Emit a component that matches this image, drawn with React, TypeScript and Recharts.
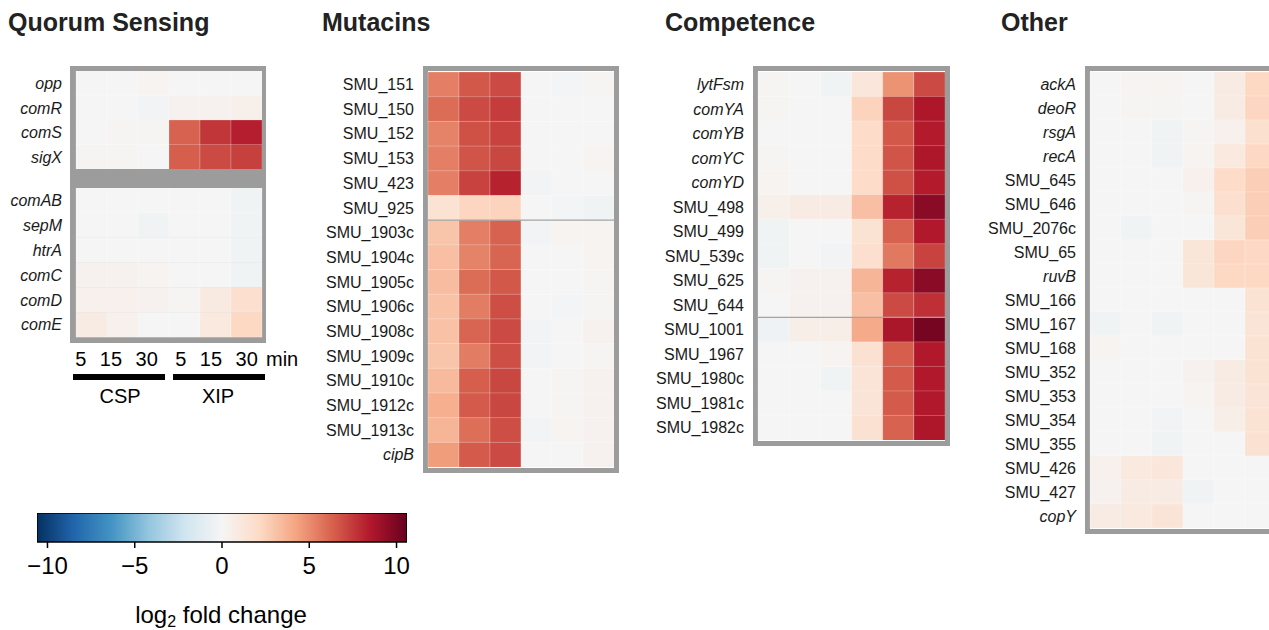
import React from "react";
import { BarChart, Bar, Cell, XAxis, YAxis, ReferenceLine } from "recharts";

const FONT = "'Liberation Sans', Arial, Helvetica, sans-serif";

// time points: CSP 5/15/30 then XIP 5/15/30
const timePoints = ["5", "15", "30", "5", "15", "30"];
const treatments = ["CSP", "XIP"];

const qsTopGenes = ["opp", "comR", "comS", "sigX"];
const qsTopValues = [
  [0, 0, 0.2, 0, 0, 0],
  [0, 0, -0.2, 0.3, 0.3, 0.5],
  [0, 0.1, 0.1, 6.3, 7.6, 8.3],
  [0.1, 0.1, 0, 6.4, 7.0, 7.3],
];

const qsBottomGenes = ["comAB", "sepM", "htrA", "comC", "comD", "comE"];
const qsBottomValues = [
  [0, 0, 0, 0, 0, -0.3],
  [0, 0, -0.3, 0, 0, -0.3],
  [0, 0, 0, 0, 0, -0.3],
  [0.3, 0.3, 0.2, 0, 0, -0.3],
  [0.4, 0.4, 0.3, 0.1, 0.9, 1.8],
  [0.8, 0.4, 0, 0, 1.0, 2.2],
];

const mutacinGenes = [
  "SMU_151", "SMU_150", "SMU_152", "SMU_153", "SMU_423", "SMU_925",
  "SMU_1903c", "SMU_1904c", "SMU_1905c", "SMU_1906c", "SMU_1908c",
  "SMU_1909c", "SMU_1910c", "SMU_1912c", "SMU_1913c", "cipB",
];
const mutacinValues = [
  [5.4, 6.6, 7.0, 0, -0.1, 0.1],
  [6.0, 7.0, 7.4, 0, 0, 0],
  [5.3, 6.8, 7.2, 0, 0, 0],
  [5.4, 6.7, 7.1, 0, 0, 0.2],
  [5.4, 7.2, 8.2, -0.2, 0, 0],
  [1.5, 2.3, 2.4, 0, -0.1, -0.3],
  [3.0, 5.4, 6.3, -0.2, 0.2, 0.2],
  [3.2, 5.3, 6.2, 0, 0, 0.2],
  [3.3, 6.0, 6.6, 0, 0, 0.1],
  [3.1, 5.5, 6.9, 0, -0.1, 0.1],
  [3.1, 6.2, 7.0, -0.2, 0, 0.3],
  [3.0, 5.5, 6.9, -0.2, 0, 0.1],
  [3.4, 6.4, 7.1, 0, 0.1, 0.3],
  [3.8, 6.5, 7.1, 0, 0.1, 0.3],
  [3.6, 5.9, 6.9, -0.2, 0.2, 0.3],
  [4.5, 6.5, 7.0, 0, 0, 0.3],
];

const competenceGenes = [
  "lytFsm", "comYA", "comYB", "comYC", "comYD", "SMU_498", "SMU_499",
  "SMU_539c", "SMU_625", "SMU_644", "SMU_1001", "SMU_1967", "SMU_1980c",
  "SMU_1981c", "SMU_1982c",
];
const competenceValues = [
  [0.1, 0, -0.3, 1.2, 4.8, 7.0],
  [0.1, 0, 0, 2.4, 7.1, 8.6],
  [0, 0, 0, 2.0, 6.6, 8.4],
  [0.1, 0, 0, 2.0, 6.7, 8.6],
  [0.2, 0, 0, 2.0, 6.8, 8.4],
  [0.5, 0.8, 0.8, 3.2, 8.2, 9.6],
  [-0.3, 0, 0, 1.5, 6.3, 8.5],
  [-0.3, 0, -0.2, 1.8, 5.6, 7.2],
  [0.1, 0.3, 0.3, 3.6, 8.2, 9.6],
  [0, 0.3, 0.3, 3.2, 7.0, 7.8],
  [-0.4, 0.6, 0.6, 4.0, 8.7, 10.2],
  [0, 0, 0.2, 1.6, 6.4, 8.5],
  [0, 0, -0.3, 1.4, 6.5, 8.5],
  [0, 0, 0, 1.4, 6.5, 8.5],
  [0, 0, 0, 1.6, 6.3, 8.6],
];

const otherGenes = [
  "ackA", "deoR", "rsgA", "recA", "SMU_645", "SMU_646", "SMU_2076c",
  "SMU_65", "ruvB", "SMU_166", "SMU_167", "SMU_168", "SMU_352", "SMU_353",
  "SMU_354", "SMU_355", "SMU_426", "SMU_427", "copY",
];
const otherValues = [
  [0, 0.2, 0.2, 0, 0.8, 2.2],
  [0, 0.1, 0.1, 0, 0.8, 2.3],
  [0, 0, -0.3, 0.1, 0.4, 1.7],
  [0, 0, -0.3, 0.2, 1.0, 2.2],
  [0, 0, 0, 0.4, 2.0, 2.6],
  [0, 0, 0, 0.1, 1.8, 2.6],
  [0, -0.3, 0, 0, 1.3, 2.6],
  [0, 0, 0, 1.3, 2.3, 2.2],
  [0, 0, 0, 1.3, 2.2, 2.2],
  [0, 0, 0, 0, 0, 1.5],
  [-0.3, 0, -0.3, 0, 0, 1.4],
  [0.2, 0, 0, 0, 0, 1.5],
  [0, 0, 0, 0.3, 0.8, 1.5],
  [0, 0, 0, 0.2, 0.8, 1.4],
  [0, 0, -0.2, 0, 0.6, 1.5],
  [0, 0, -0.3, 0, 0, 1.6],
  [0.4, 1.0, 1.2, 0, 0, 0],
  [0.3, 0.8, 0.8, -0.3, 0, 0],
  [0.8, 1.0, 1.4, 0, 0, 0],
];

const colorbarTicks = [-10, -5, 0, 5, 10];
const LIMIT = 10.6;

const rdbu = [
  "#053061", "#2166AC", "#4393C3", "#92C5DE", "#D1E5F0", "#F5F5F5",
  "#FDDBC7", "#F4A582", "#D6604D", "#B2182B", "#67001F",
];

function hexToRgb(h: string) {
  const n = parseInt(h.slice(1), 16);
  return [(n >> 16) & 255, (n >> 8) & 255, n & 255];
}

function heatColor(v: number) {
  const c = Math.max(-LIMIT, Math.min(LIMIT, v));
  const t = ((c + LIMIT) / (2 * LIMIT)) * (rdbu.length - 1);
  const i = Math.min(rdbu.length - 2, Math.floor(t));
  const f = t - i;
  const a = hexToRgb(rdbu[i]);
  const b = hexToRgb(rdbu[i + 1]);
  const m = a.map((x, k) => Math.round(x + (b[k] - x) * f));
  return `rgb(${m[0]},${m[1]},${m[2]})`;
}

const GeneTick = (props: any) => {
  const { x, y, payload } = props;
  const g: string = payload.value;
  return (
    <text
      x={x}
      y={y}
      dy="0.36em"
      textAnchor="end"
      fontSize={16}
      fontFamily={FONT}
      fill="#1a1a1a"
      fontStyle={g.startsWith("SMU_") ? "normal" : "italic"}
    >
      {g}
    </text>
  );
};

// one label per treatment group: "5 15 30"
const TimeTick = (props: any) => {
  const { x, y, payload } = props;
  const g = Math.floor(payload.value / 3);
  const label = timePoints.slice(g * 3, g * 3 + 3).join(" ");
  return (
    <text
      x={g === 0 ? x - 6 : x + 1}
      y={y}
      dy="0.71em"
      textAnchor="middle"
      fontSize={20}
      fontFamily={FONT}
      fill="#000"
      style={{ wordSpacing: 8 }}
    >
      {label}
    </text>
  );
};

// colour key tick: short mark under the bar plus the number
const KeyTick = (props: any) => {
  const { x, y, payload } = props;
  const v: number = payload.value;
  return (
    <g>
      <line x1={x} x2={x} y1={y - 15} y2={y - 9} stroke="#000" strokeWidth={1.5} />
      <text x={x} y={y} dy="0.71em" textAnchor="middle" fontSize={24} fontFamily={FONT} fill="#000">
        {v < 0 ? `\u2212${Math.abs(v)}` : `${v}`}
      </text>
    </g>
  );
};

type HeatmapProps = {
  genes: string[];
  values: number[][];
  plotLeft: number;
  plotTop: number;
  plotWidth: number;
  plotHeight: number;
  labelWidth?: number;
  divider?: string;
  showTimes?: boolean;
};

function Heatmap({ genes, values, plotLeft, plotTop, plotWidth, plotHeight, labelWidth = 110, divider, showTimes }: HeatmapProps) {
  const data = genes.map((gene) => {
    const row: any = { gene };
    timePoints.forEach((_, k) => (row[`c${k}`] = 1));
    return row;
  });
  const axisHeight = showTimes ? 40 : 0;
  return (
    <div style={{ position: "absolute", left: plotLeft - labelWidth, top: plotTop }}>
      <BarChart
        width={labelWidth + plotWidth + (showTimes ? 20 : 0)}
        height={plotHeight + axisHeight}
        data={data}
        layout="vertical"
        barCategoryGap={0}
        barGap={0}
        margin={{ top: 0, right: showTimes ? 20 : 0, bottom: 0, left: 0 }}
      >
        <XAxis
          type="number"
          domain={[0, timePoints.length]}
          ticks={treatments.map((_, g) => g * 3 + 1.5)}
          hide={!showTimes}
          height={axisHeight}
          axisLine={false}
          tickLine={false}
          tickSize={0}
          tickMargin={15}
          interval={0}
          tick={<TimeTick />}
        />
        <YAxis
          type="category"
          dataKey="gene"
          width={labelWidth}
          axisLine={false}
          tickLine={false}
          tickSize={0}
          tickMargin={14}
          interval={0}
          tick={<GeneTick />}
        />
        {timePoints.map((_, k) => (
          <Bar
            key={k}
            dataKey={`c${k}`}
            stackId="cells"
            isAnimationActive={false}
            stroke="rgba(255,255,255,0.35)"
            strokeWidth={0.6}
          >
            {values.map((row, i) => (
              <Cell key={i} fill={heatColor(row[k])} />
            ))}
          </Bar>
        ))}
        {divider && (
          <ReferenceLine y={divider} position="start" stroke="#a3a3a3" strokeWidth={1.3} ifOverflow="visible" />
        )}
      </BarChart>
    </div>
  );
}

function Frame({ left, top, width, height }: { left: number; top: number; width: number; height: number }) {
  return (
    <div
      style={{
        position: "absolute",
        left: left - 5,
        top: top - 6,
        width: width + 10,
        height: height + 12,
        border: "5px solid #9c9c9c",
        boxSizing: "border-box",
      }}
    />
  );
}

function ColorKey() {
  const data = [{ name: "key", range: [-LIMIT, LIMIT] }];
  return (
    <div style={{ position: "absolute", left: 37 - 30, top: 513 }}>
      <BarChart
        width={370 + 60}
        height={29 + 50}
        data={data}
        layout="vertical"
        barCategoryGap={0}
        margin={{ top: 0, right: 30, bottom: 0, left: 30 }}
      >
        <XAxis
          type="number"
          domain={[-LIMIT, LIMIT]}
          ticks={colorbarTicks}
          interval={0}
          allowDataOverflow
          height={50}
          axisLine={false}
          tickLine={false}
          tickSize={6}
          tickMargin={9}
          tick={<KeyTick />}
        />
        <YAxis type="category" dataKey="name" hide />
        <Bar dataKey="range" fill="url(#rdbuGrad)" stroke="#000" strokeWidth={1.5} isAnimationActive={false} />
      </BarChart>
    </div>
  );
}

const titleStyle: React.CSSProperties = {
  position: "absolute",
  top: 10,
  fontSize: 25,
  fontWeight: "bold",
  lineHeight: 1,
  color: "#222",
  whiteSpace: "nowrap",
};

const labelStyle: React.CSSProperties = {
  position: "absolute",
  fontSize: 20,
  lineHeight: 1,
  color: "#000",
  whiteSpace: "nowrap",
};

export default function App() {
  return (
    <div
      style={{
        position: "fixed",
        left: 0,
        top: 0,
        width: 1269,
        height: 630,
        overflow: "hidden",
        background: "#fff",
        fontFamily: FONT,
      }}
    >
      <svg width={0} height={0} style={{ position: "absolute" }}>
        <defs>
          <linearGradient id="rdbuGrad" x1="0" x2="1" y1="0" y2="0">
            {rdbu.map((c, i) => (
              <stop key={i} offset={i / (rdbu.length - 1)} stopColor={c} />
            ))}
          </linearGradient>
        </defs>
      </svg>

      <div style={{ ...titleStyle, left: 8 }}>Quorum Sensing</div>
      <div style={{ ...titleStyle, left: 322 }}>Mutacins</div>
      <div style={{ ...titleStyle, left: 665 }}>Competence</div>
      <div style={{ ...titleStyle, left: 1001 }}>Other</div>

      {/* Quorum sensing: grey box with two blocks */}
      <div style={{ position: "absolute", left: 70, top: 66, width: 196, height: 277, background: "#9c9c9c" }} />
      <Heatmap genes={qsTopGenes} values={qsTopValues} plotLeft={76} plotTop={71} plotWidth={186} plotHeight={98} labelWidth={70} />
      <Heatmap genes={qsBottomGenes} values={qsBottomValues} plotLeft={76} plotTop={188} plotWidth={186} plotHeight={149} labelWidth={70} showTimes />
      <div style={{ ...labelStyle, left: 266, top: 349 }}>min</div>
      <div style={{ position: "absolute", left: 73, top: 374, width: 92, height: 6, background: "#000" }} />
      <div style={{ position: "absolute", left: 173, top: 374, width: 92, height: 6, background: "#000" }} />
      <div style={{ ...labelStyle, left: 120, top: 386, transform: "translateX(-50%)" }}>{treatments[0]}</div>
      <div style={{ ...labelStyle, left: 218, top: 386, transform: "translateX(-50%)" }}>{treatments[1]}</div>

      <Frame left={428} top={72} width={186} height={395} />
      <Heatmap genes={mutacinGenes} values={mutacinValues} plotLeft={428} plotTop={72} plotWidth={186} plotHeight={395} divider="SMU_1903c" />

      <Frame left={758} top={72} width={187} height={368} />
      <Heatmap genes={competenceGenes} values={competenceValues} plotLeft={758} plotTop={72} plotWidth={187} plotHeight={368} divider="SMU_1001" />

      <Frame left={1090} top={72} width={186} height={456} />
      <Heatmap genes={otherGenes} values={otherValues} plotLeft={1090} plotTop={72} plotWidth={186} plotHeight={456} />

      <ColorKey />
      <div style={{ position: "absolute", left: 221, top: 603, transform: "translateX(-50%)", fontSize: 24, lineHeight: 1, whiteSpace: "nowrap", color: "#000" }}>
        log<sub style={{ fontSize: 16, verticalAlign: "-0.25em", lineHeight: 0 }}>2</sub> fold change
      </div>
    </div>
  );
}
